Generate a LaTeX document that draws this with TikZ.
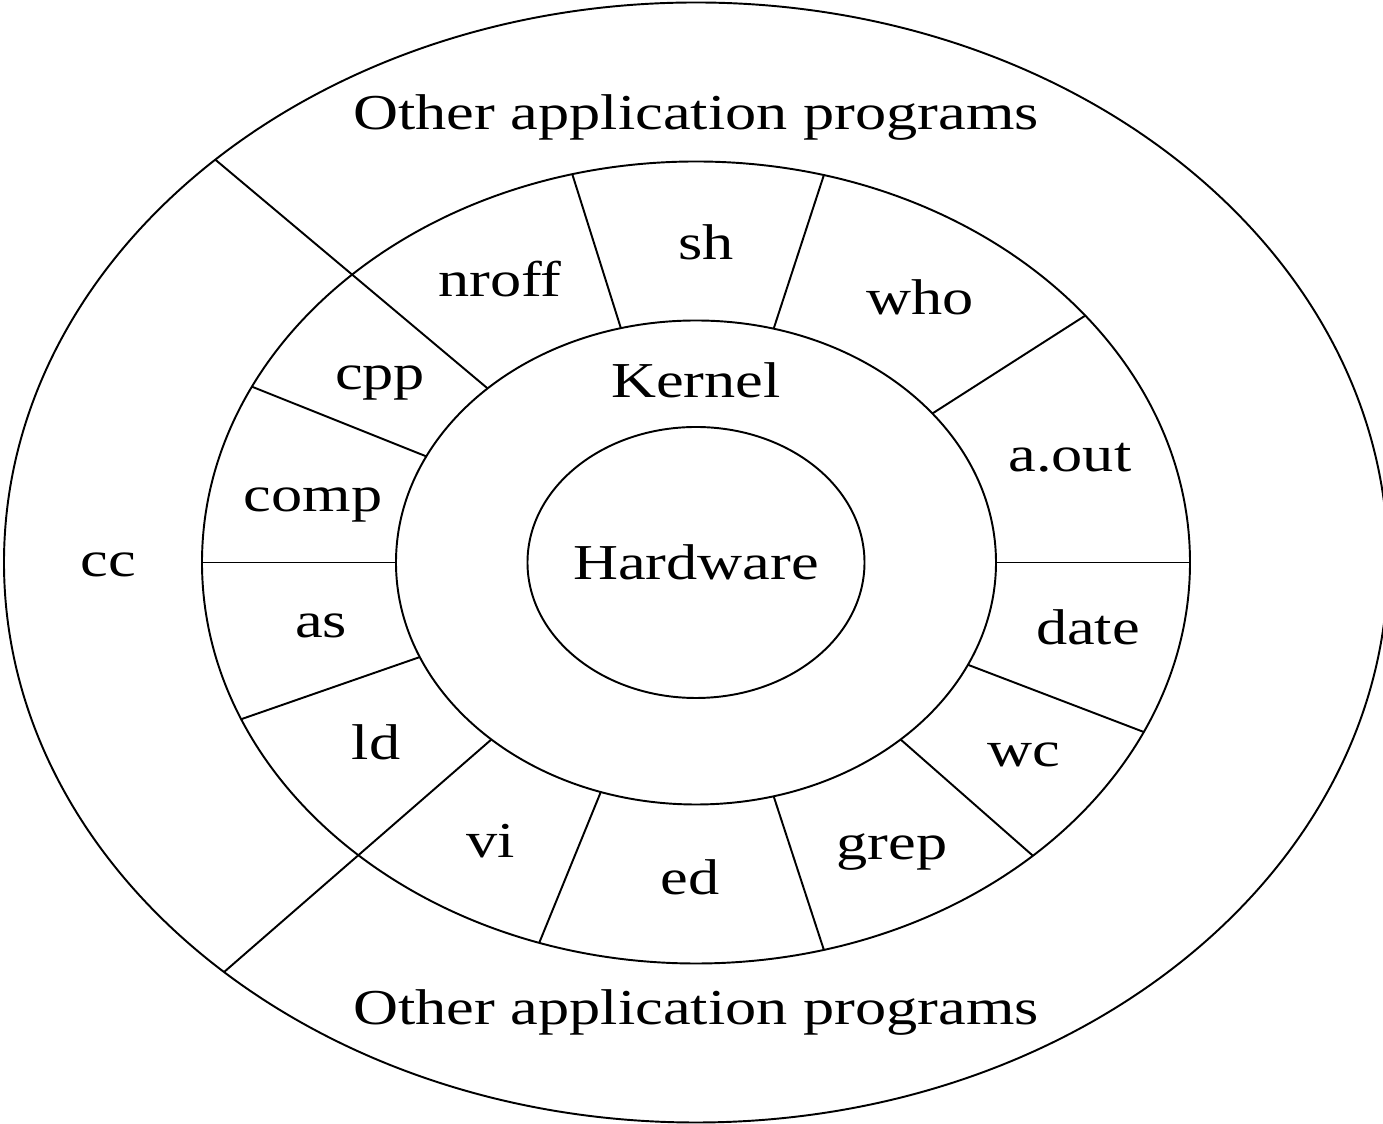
\documentclass[tikz,border=0pt]{standalone}
\usepackage{fontspec}
\setmainfont{Liberation Serif}

\tikzset{
  lbl/.style={font=\fontsize{14.3pt}{16pt}\selectfont, anchor=base, inner sep=0pt, xscale=1.24, transform shape},
}

\begin{document}
\begin{tikzpicture}[line width=0.55pt]
	\useasboundingbox (-6.96,-5.615) rectangle (6.87,5.625);
	% rings
	\draw (0,0) ellipse (6.92 and 5.60);
	\draw (0,0) ellipse (4.94 and 4.01);
	\draw (0,0) ellipse (3.00 and 2.42);
	\draw (0,0) ellipse (1.685 and 1.355);
	% spokes between kernel and utilities ring
	\foreach \a in {104.5,75,38,0,-25,-47,-75,-108.5,-157,180,154}
		\draw (\a:3 and 2.42) -- (\a:4.94 and 4.01);
	% cc spokes, out to the outer ring
	\foreach \a in {134,-133}
		\draw (\a:3 and 2.42) -- (\a:6.92 and 5.60);

	% outer ring
	\node[lbl] (othertop) at (0,4.325) {Other application programs};
	\node[lbl] (otherbot) at (0,-4.625) {Other application programs};
	\node[lbl] (cc) at (-5.88,-0.145) {cc};
	% core
	\node[lbl] (kernel) at (0,1.645) {Kernel};
	\node[lbl] (hw) at (0,-0.175) {Hardware};
	% utilities
	\node[lbl] (sh) at (0.10,3.025) {sh};
	\node[lbl] (who) at (2.24,2.475) {who};
	\node[lbl] (aout) at (3.74,0.905) {a.out};
	\node[lbl] (date) at (3.92,-0.825) {date};
	\node[lbl] (wc) at (3.28,-2.045) {wc};
	\node[lbl] (grep) at (1.96,-2.975) {grep};
	\node[lbl] (ed) at (-0.06,-3.325) {ed};
	\node[lbl] (vi) at (-2.05,-2.955) {vi};
	\node[lbl] (ld) at (-3.20,-1.975) {ld};
	\node[lbl] (as) at (-3.75,-0.755) {as};
	\node[lbl] (comp) at (-3.83,0.505) {comp};
	\node[lbl] (cpp) at (-3.16,1.725) {cpp};
	\node[lbl] (nroff) at (-1.96,2.655) {nroff};
\end{tikzpicture}
\end{document}
